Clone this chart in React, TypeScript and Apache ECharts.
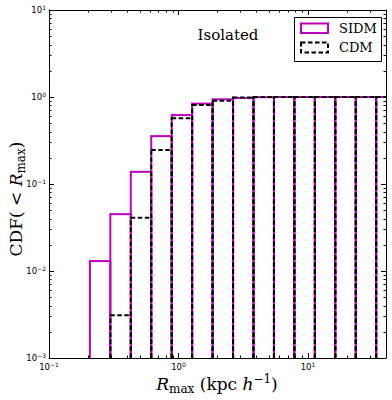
import React, { useEffect, useRef } from "react";
import * as echarts from "echarts";

// Histogram bin edges (log-spaced), kpc/h
const binEdges = [0.2069, 0.2976, 0.4281, 0.6158, 0.8859, 1.274, 1.833, 2.637, 3.793, 5.456, 7.848, 11.29, 16.24, 23.36, 33.6, 48.33];
// Cumulative fractions per bin
const sidmCdf = [0.013, 0.045, 0.138, 0.355, 0.62, 0.84, 0.94, 0.975, 0.995, 1, 1, 1, 1, 1, 1];
const cdmCdf = [0, 0.0031, 0.041, 0.246, 0.57, 0.81, 0.905, 0.985, 0.997, 1, 1, 1, 1, 1, 1];
const seriesNames = ["SIDM", "CDM"];
const xMinorTicks = [0.2, 0.3, 0.4, 0.5, 0.6, 0.7, 0.8, 0.9, 2, 3, 4, 5, 6, 7, 8, 9, 20, 30];
const yMinorTicks = [
  0.002, 0.003, 0.004, 0.005, 0.006, 0.007, 0.008, 0.009,
  0.02, 0.03, 0.04, 0.05, 0.06, 0.07, 0.08, 0.09,
  0.2, 0.3, 0.4, 0.5, 0.6, 0.7, 0.8, 0.9,
  2, 3, 4, 5, 6, 7, 8, 9,
];

const MAGENTA = "#bf00bf";
const DASH = [4.5, 2.5];
const SERIF = '"DejaVu Serif", serif';
const SANS = '"DejaVu Sans", sans-serif';

function histRows(cdf: number[]) {
  return cdf.map((v, i) => [binEdges[i], binEdges[i + 1], v]);
}

function histRender(color: string, dash: number[] | null) {
  return (params: any, api: any) => {
    const x0 = api.value(0);
    const x1 = api.value(1);
    const v = api.value(2);
    if (!(v > 0)) return null;
    const cs = params.coordSys;
    const right = cs.x + cs.width;
    const bottom = cs.y + cs.height;
    const pa = api.coord([x0, v]);
    const pb = api.coord([x1, v]);
    const style = { fill: null, stroke: color, lineWidth: 2, lineDash: dash || undefined };
    const children: any[] = [
      { type: "line", shape: { x1: pa[0], y1: bottom, x2: pa[0], y2: pa[1] - 1 }, style },
    ];
    if (pb[0] <= right + 0.5) {
      children.push({ type: "line", shape: { x1: pa[0], y1: pa[1], x2: pb[0], y2: pb[1] }, style });
      children.push({ type: "line", shape: { x1: pb[0], y1: bottom, x2: pb[0], y2: pb[1] - 1 }, style });
    } else {
      children.push({ type: "line", shape: { x1: pa[0], y1: pa[1], x2: right, y2: pb[1] }, style });
    }
    return { type: "group", children };
  };
}

function minorRender(axis: "x" | "y") {
  return (params: any, api: any) => {
    const cs = params.coordSys;
    const p = api.coord([api.value(0), api.value(1)]);
    const L = 2.5;
    const st = { stroke: "#000", lineWidth: 1 };
    if (axis === "x") {
      const x = Math.round(p[0]) + 0.5;
      return {
        type: "group",
        children: [
          { type: "line", shape: { x1: x, y1: cs.y + cs.height, x2: x, y2: cs.y + cs.height - L }, style: st },
          { type: "line", shape: { x1: x, y1: cs.y, x2: x, y2: cs.y + L }, style: st },
        ],
      };
    }
    const y = Math.round(p[1]) + 0.5;
    return {
      type: "group",
      children: [
        { type: "line", shape: { x1: cs.x, y1: y, x2: cs.x + L, y2: y }, style: st },
        { type: "line", shape: { x1: cs.x + cs.width, y1: y, x2: cs.x + cs.width - L, y2: y }, style: st },
      ],
    };
  };
}

function powLabel(v: number) {
  const lg = Math.log10(v);
  const e = Math.round(lg);
  if (Math.abs(lg - e) > 1e-6) return "";
  return "{b|10}{e|" + String(e).replace("-", "\u2212") + "}";
}

const tickRich = {
  b: { fontSize: 8.5, fontFamily: SANS, color: "#000", lineHeight: 12, verticalAlign: "middle" },
  e: { fontSize: 6, fontFamily: SANS, color: "#000", lineHeight: 7, verticalAlign: "top" },
};

function baseAxis(extra: any) {
  return {
    type: "log",
    logBase: 10,
    axisLine: { show: true, onZero: false, lineStyle: { color: "#000", width: 1 } },
    axisTick: { show: true, inside: true, length: 5, lineStyle: { color: "#000", width: 1 } },
    splitLine: { show: false },
    minorTick: { show: false },
    ...extra,
  };
}

export default function App() {
  const ref = useRef<HTMLDivElement>(null);
  useEffect(() => {
    document.body.style.margin = "0";
    if (!ref.current) return;
    const chart = echarts.init(ref.current, null, { renderer: "svg" });
    const option: any = {
      animation: false,
      backgroundColor: "#fff",
      grid: { left: 49, top: 10, right: 6, bottom: 42, containLabel: false },
      xAxis: [
        baseAxis({
          position: "bottom",
          min: 0.1,
          max: 40,
          axisLabel: { show: true, margin: 3, formatter: powLabel, rich: tickRich, showMaxLabel: false },
        }),
        baseAxis({ position: "top", min: 0.1, max: 40, axisLabel: { show: false } }),
      ],
      yAxis: [
        baseAxis({
          position: "left",
          min: 0.001,
          max: 10,
          axisLabel: { show: true, margin: 3, formatter: powLabel, rich: tickRich },
        }),
        baseAxis({ position: "right", min: 0.001, max: 10, axisLabel: { show: false } }),
      ],
      series: [
        {
          name: seriesNames[0],
          type: "custom",
          xAxisIndex: 0,
          yAxisIndex: 0,
          renderItem: histRender(MAGENTA, null),
          encode: { x: [0, 1], y: 2 },
          data: histRows(sidmCdf),
          z: 3,
          silent: true,
        },
        {
          name: seriesNames[1],
          type: "custom",
          xAxisIndex: 0,
          yAxisIndex: 0,
          renderItem: histRender("#000", DASH),
          encode: { x: [0, 1], y: 2 },
          data: histRows(cdmCdf),
          z: 4,
          silent: true,
        },
        {
          name: "xminor",
          type: "custom",
          renderItem: minorRender("x"),
          encode: { x: 0, y: 1 },
          data: xMinorTicks.map((v) => [v, 1]),
          z: 5,
          silent: true,
        },
        {
          name: "yminor",
          type: "custom",
          renderItem: minorRender("y"),
          encode: { x: 0, y: 1 },
          data: yMinorTicks.map((v) => [1, v]),
          z: 5,
          silent: true,
        },
      ],
      graphic: [
        {
          type: "text",
          x: 228,
          y: 35,
          style: { text: "Isolated", fontSize: 15, fontFamily: SERIF, fill: "#000", align: "center", verticalAlign: "middle" },
        },
        {
          type: "rect",
          shape: { x: 294.5, y: 17.5, width: 87, height: 44 },
          style: { fill: "#fff", stroke: "#000", lineWidth: 1 },
          z: 10,
        },
        {
          type: "rect",
          shape: { x: 301, y: 23.5, width: 27, height: 9.5 },
          style: { fill: null, stroke: MAGENTA, lineWidth: 2 },
          z: 11,
        },
        {
          type: "text",
          x: 339,
          y: 28.5,
          style: { text: seriesNames[0], fontSize: 13, fontFamily: SERIF, fill: "#000", align: "left", verticalAlign: "middle" },
          z: 11,
        },
        {
          type: "rect",
          shape: { x: 301, y: 42.5, width: 27, height: 10 },
          style: { fill: null, stroke: "#000", lineWidth: 2, lineDash: DASH },
          z: 11,
        },
        {
          type: "text",
          x: 339,
          y: 47.5,
          style: { text: seriesNames[1], fontSize: 13, fontFamily: SERIF, fill: "#000", align: "left", verticalAlign: "middle" },
          z: 11,
        },
        {
          type: "text",
          x: 16,
          y: 199,
          rotation: Math.PI / 2,
          style: {
            text: "{n|CDF( < }{i|R}{s|max}{n|)}",
            align: "center",
            verticalAlign: "middle",
            rich: {
              n: { fontSize: 17, fontFamily: SERIF, fill: "#000", lineHeight: 22, verticalAlign: "middle" },
              i: { fontSize: 17, fontFamily: SERIF, fontStyle: "italic", fill: "#000", lineHeight: 22, verticalAlign: "middle" },
              s: { fontSize: 12, fontFamily: SERIF, fill: "#000", lineHeight: 12, verticalAlign: "bottom" },
            },
          },
        },
        {
          type: "text",
          x: 217,
          y: 384,
          style: {
            text: "{i|R}{s|max}{n| (kpc }{i|h}{p|\u22121}{n|)}",
            align: "center",
            verticalAlign: "middle",
            rich: {
              n: { fontSize: 17, fontFamily: SERIF, fill: "#000", lineHeight: 22, verticalAlign: "middle" },
              i: { fontSize: 17, fontFamily: SERIF, fontStyle: "italic", fill: "#000", lineHeight: 22, verticalAlign: "middle" },
              s: { fontSize: 12, fontFamily: SERIF, fill: "#000", lineHeight: 12, verticalAlign: "bottom" },
              p: { fontSize: 12, fontFamily: SERIF, fill: "#000", lineHeight: 12, verticalAlign: "top" },
            },
          },
        },
      ],
    };
    chart.setOption(option);
    return () => chart.dispose();
  }, []);
  return <div ref={ref} style={{ width: 392, height: 400 }} />;
}
